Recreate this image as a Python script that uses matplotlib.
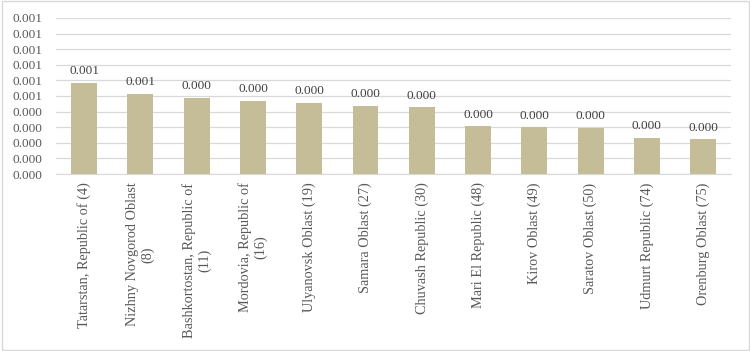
import matplotlib.pyplot as plt
from matplotlib.patches import Rectangle
from matplotlib.ticker import FuncFormatter
from decimal import Decimal, ROUND_HALF_UP

regions = ["Tatarstan, Republic of (4)", "Nizhny Novgorod Oblast\n(8)",
           "Bashkortostan, Republic of\n(11)", "Mordovia, Republic of\n(16)",
           "Ulyanovsk Oblast (19)", "Samara Oblast (27)", "Chuvash Republic (30)",
           "Mari El Republic (48)", "Kirov Oblast (49)", "Saratov Oblast (50)",
           "Udmurt Republic (74)", "Orenburg Oblast (75)"]
values = [0.000585, 0.000513, 0.000487, 0.000468, 0.000457, 0.000436,
          0.000427, 0.000306, 0.000299, 0.000297, 0.000231, 0.000224]
yticks = [i / 10000 for i in range(11)]


def fmt3(v, pos=None):
    # excel-style rounding (half up)
    d = Decimal(str(round(float(v), 10)))
    return str(d.quantize(Decimal("0.001"), rounding=ROUND_HALF_UP))


def main():
    plt.rcParams["font.family"] = ["Liberation Serif", "DejaVu Serif"]
    fig = plt.figure(figsize=(7.5, 3.51), dpi=100)
    ax = fig.add_axes([0.0747, 0.504, 0.9003, 0.445])

    x = range(len(regions))
    bars = ax.bar(x, values, width=0.46, color="#C4BD97", zorder=3)
    for b, v in zip(bars, values):
        ax.annotate(fmt3(v), (b.get_x() + b.get_width() / 2, v), xytext=(0, 4),
                    textcoords="offset points", ha="center", va="bottom",
                    fontsize=9.5, color="#404040")

    ax.set_xlim(-0.5, len(regions) - 0.5)
    ax.set_ylim(0, 0.001)
    ax.set_yticks(yticks)
    ax.yaxis.set_major_formatter(FuncFormatter(fmt3))
    ax.set_xticks(list(x))
    ax.set_xticklabels(regions, rotation=90, ha="center", va="top",
                       multialignment="center")
    ax.tick_params(axis="y", length=0, labelsize=9.5, labelcolor="#595959", pad=10)
    ax.tick_params(axis="x", length=0, labelsize=10.3, labelcolor="#595959", pad=6)
    ax.grid(axis="y", color="#D9D9D9", linewidth=0.9, zorder=0)
    for s in ["top", "right", "left"]:
        ax.spines[s].set_visible(False)
    ax.spines["bottom"].set_color("#D9D9D9")
    ax.spines["bottom"].set_zorder(4)

    fig.patches.append(Rectangle((0.002, 0.003), 0.996, 0.994, transform=fig.transFigure,
                                 fill=False, edgecolor="#D9D9D9", linewidth=1))
    fig.savefig("out.png", dpi=100)


if __name__ == "__main__":
    main()
